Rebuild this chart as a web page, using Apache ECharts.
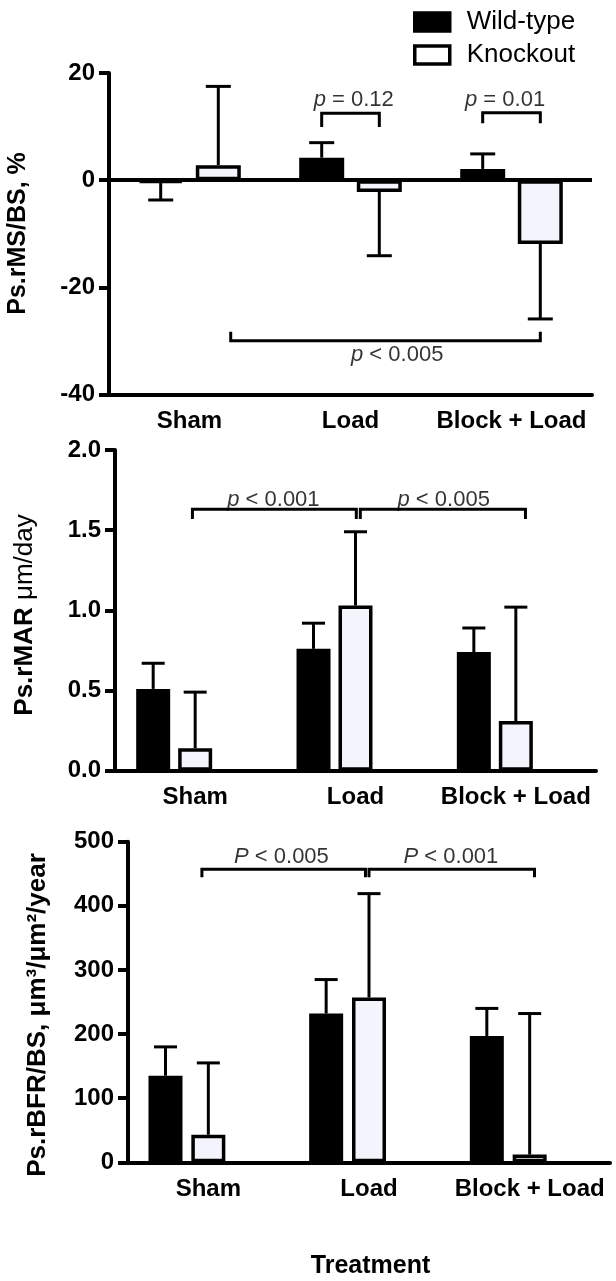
<!DOCTYPE html>
<html><head><meta charset="utf-8">
<script src="https://cdn.jsdelivr.net/npm/echarts@6/dist/echarts.min.js"></script>
<style>html,body{margin:0;padding:0;background:#fff}#c{width:616px;height:1281px}</style>
</head><body><div id="c"></div>
<script>
const categories = ['Sham', 'Load', 'Block + Load'];
const seriesNames = ['Wild-type', 'Knockout'];

// Panel 1: Ps.rMS/BS, %
const msWT = [-0.5, 4.2, 2.1];
const msKO = [2.8, -2.2, -11.9];
const msWTErrEnd = [-3.7, 7.0, 4.9];
const msKOErrEnd = [17.5, -14.1, -25.9];
const msTicks = [-40, -20, 0, 20];

// Panel 2: Ps.rMAR µm/day
const marWT = [0.51, 0.76, 0.74];
const marKO = [0.14, 1.03, 0.31];
const marWTErrEnd = [0.67, 0.92, 0.89];
const marKOErrEnd = [0.49, 1.49, 1.02];
const marTicks = [0, 0.5, 1.0, 1.5, 2.0];

// Panel 3: Ps.rBFR/BS
const bfrWT = [135, 232, 197];
const bfrKO = [43, 257, 12];
const bfrWTErrEnd = [180, 285, 240];
const bfrKOErrEnd = [155, 419, 232];
const bfrTicks = [0, 100, 200, 300, 400, 500];

// significance annotations (x in category units, y in data units)
const msBrX = [[0.821, 1.179], [1.821, 2.179], [0.256, 2.179]];
const msBrY = [[9.9, 12.5], [10.6, 12.6], [-28.3, -29.95]];
const msPLetter = ['p', 'p', 'p'];
const msPText = [' = 0.12', ' = 0.01', ' < 0.005'];
const msPPos = [[1.02, 14.9], [1.96, 15.0], [1.29, -32.6]];

const marBrX = [[-0.017, 1.005], [1.03, 2.06]];
const marBrY = [[1.57, 1.63], [1.57, 1.63]];
const marPLetter = ['p', 'p'];
const marPText = [' < 0.001', ' < 0.005'];
const marPPos = [[0.488, 1.69], [1.55, 1.69]];

const bfrBrX = [[-0.04, 0.978], [1.0, 2.03]];
const bfrBrY = [[444.5, 457], [444.5, 457]];
const bfrPLetter = ['P', 'P'];
const bfrPText = [' < 0.005', ' < 0.001'];
const bfrPPos = [[0.455, 476], [1.51, 476]];

const FF = '"Liberation Sans", Arial, Helvetica, sans-serif';
const KO_FILL = '#f4f5fc';

const panels = [
  { grid: {left: 109, top: 73, width: 483, height: 321.5},
    wt: msWT, ko: msKO, wtE: msWTErrEnd, koE: msKOErrEnd, ticks: msTicks, fmt: v => String(v),
    barWidth: 45, barGap: 0.28, dummy: false, capW: 25, zeroLine: true,
    brX: msBrX, brY: msBrY, pL: msPLetter, pT: msPText, pP: msPPos },
  { grid: {left: 115, top: 450, width: 481, height: 320.7},
    wt: marWT, ko: marKO, wtE: marWTErrEnd, koE: marKOErrEnd, ticks: marTicks, fmt: v => v.toFixed(1),
    barWidth: 34, barGap: 0.235, dummy: true, capW: 23, zeroLine: false,
    brX: marBrX, brY: marBrY, pL: marPLetter, pT: marPText, pP: marPPos },
  { grid: {left: 128, top: 841.7, width: 482, height: 320.6},
    wt: bfrWT, ko: bfrKO, wtE: bfrWTErrEnd, koE: bfrKOErrEnd, ticks: bfrTicks, fmt: v => String(v),
    barWidth: 34, barGap: 0.26, dummy: true, capW: 23, zeroLine: false,
    brX: bfrBrX, brY: bfrBrY, pL: bfrPLetter, pT: bfrPText, pP: bfrPPos }
];

function errRender(offset, capW) {
  return function (params, api) {
    const j = api.value(0), m = api.value(1), e = api.value(2);
    const p0 = api.coord([j, m]);
    const p1 = api.coord([j, e]);
    const x = p0[0] + offset;
    return { type: 'group', children: [
      { type: 'line', shape: {x1: x, y1: p0[1], x2: x, y2: p1[1]}, style: {stroke: '#000', lineWidth: 3} },
      { type: 'line', shape: {x1: x - capW / 2, y1: p1[1], x2: x + capW / 2, y2: p1[1]}, style: {stroke: '#000', lineWidth: 3} }
    ]};
  };
}

const grids = [], xAxes = [], yAxes = [], series = [];
panels.forEach((P, i) => {
  grids.push(P.grid);
  xAxes.push({
    type: 'category', gridIndex: i, data: categories, boundaryGap: true,
    axisLine: {onZero: false, lineStyle: {color: '#000', width: 4}},
    axisTick: {alignWithLabel: true, length: 10, lineStyle: {color: '#000', width: 4}},
    axisLabel: {interval: 0, margin: 15, fontSize: 24, fontWeight: 'bold', color: '#000', fontFamily: FF},
    splitLine: {show: false}
  });
  xAxes.push({ type: 'value', gridIndex: i, min: -0.5, max: 2.5, show: false });
  const tmin = P.ticks[0], tmax = P.ticks[P.ticks.length - 1];
  yAxes.push({
    type: 'value', gridIndex: i, min: tmin, max: tmax, interval: P.ticks[1] - P.ticks[0],
    axisLine: {show: true, onZero: false, lineStyle: {color: '#000', width: 4}},
    axisTick: {show: true, length: 10, lineStyle: {color: '#000', width: 4}},
    axisLabel: {margin: 14, fontSize: 24, fontWeight: 'bold', color: '#000', fontFamily: FF, formatter: P.fmt},
    splitLine: {show: false}
  });
  const cx = 2 * i, hx = 2 * i + 1;
  const gapPct = (P.barGap * 100).toFixed(1) + '%';
  const step = P.barWidth * (1 + P.barGap);
  const wtOff = P.dummy ? -step : -step / 2;
  const koOff = P.dummy ? 0 : step / 2;
  const wtSeries = {
    type: 'bar', name: seriesNames[0], xAxisIndex: cx, yAxisIndex: i, data: P.wt,
    barWidth: P.barWidth, barGap: gapPct,
    itemStyle: {color: '#000', borderColor: '#000', borderWidth: 3.5},
    silent: true, z: 2
  };
  if (P.zeroLine) {
    wtSeries.markLine = {
      silent: true, symbol: ['none', 'none'], label: {show: false},
      lineStyle: {color: '#000', width: 4, type: 'solid'}, data: [{yAxis: 0}]
    };
  }
  series.push(wtSeries);
  series.push({
    type: 'bar', name: seriesNames[1], xAxisIndex: cx, yAxisIndex: i, data: P.ko,
    barWidth: P.barWidth, barGap: gapPct,
    itemStyle: {color: KO_FILL, borderColor: '#000', borderWidth: 3.5},
    silent: true, z: 2
  });
  if (P.dummy) {
    series.push({
      type: 'bar', name: '_spacer' + i, xAxisIndex: cx, yAxisIndex: i, data: ['-', '-', '-'],
      barWidth: P.barWidth, barGap: gapPct, silent: true
    });
  }
  series.push({
    type: 'custom', xAxisIndex: cx, yAxisIndex: i, silent: true, z: 3,
    renderItem: errRender(wtOff, P.capW), encode: {x: 0, y: [1, 2]},
    data: P.wt.map((v, j) => [j, v, P.wtE[j]])
  });
  series.push({
    type: 'custom', xAxisIndex: cx, yAxisIndex: i, silent: true, z: 3,
    renderItem: errRender(koOff, P.capW), encode: {x: 0, y: [1, 2]},
    data: P.ko.map((v, j) => [j, v, P.koE[j]])
  });
  P.brX.forEach((bx, k) => {
    const by = P.brY[k];
    series.push({
      type: 'line', xAxisIndex: hx, yAxisIndex: i, silent: true, symbol: 'none',
      lineStyle: {color: '#000', width: 3, join: 'miter', cap: 'butt'},
      data: [[bx[0], by[0]], [bx[0], by[1]], [bx[1], by[1]], [bx[1], by[0]]], z: 4
    });
  });
  series.push({
    type: 'scatter', xAxisIndex: hx, yAxisIndex: i, silent: true, symbolSize: 0,
    itemStyle: {color: 'rgba(0,0,0,0)'},
    data: P.pP,
    label: {
      show: true, position: 'inside', color: '#000', fontSize: 22, fontFamily: FF,
      formatter: p => '{i|' + P.pL[p.dataIndex] + '}' + P.pT[p.dataIndex],
      rich: {i: {fontStyle: 'italic', fontSize: 22, fontFamily: FF, color: '#000'}}
    }, z: 5
  });
});

const option = {
  animation: false,
  backgroundColor: '#fff',
  grid: grids, xAxis: xAxes, yAxis: yAxes, series: series,
  legend: {
    orient: 'vertical', left: 408, top: 4, itemWidth: 35, itemHeight: 18, itemGap: 7,
    icon: 'rect', selectedMode: false,
    textStyle: {fontSize: 26, fontFamily: FF, color: '#000', lineHeight: 25, padding: [0, 0, 0, 12]},
    data: [
      {name: seriesNames[0], itemStyle: {color: '#000', borderColor: '#000', borderWidth: 3.5}},
      {name: seriesNames[1], itemStyle: {color: '#fff', borderColor: '#000', borderWidth: 3.5}}
    ]
  },
  graphic: [
    {type: 'text', x: 18, y: 233.5, rotation: Math.PI / 2,
     style: {text: 'Ps.rMS/BS, %', fontSize: 25, fontWeight: 'bold', fontFamily: FF, fill: '#000', align: 'center', verticalAlign: 'middle'}},
    {type: 'text', x: 25, y: 615, rotation: Math.PI / 2,
     style: {text: '{b|Ps.rMAR} {n|μm/day}', fontSize: 26, fontFamily: FF, fill: '#000', align: 'center', verticalAlign: 'middle',
       rich: {b: {fontSize: 26, fontWeight: 'bold', fontFamily: FF, fill: '#000'}, n: {fontSize: 26, fontFamily: FF, fill: '#000'}}}},
    {type: 'text', x: 38, y: 1015, rotation: Math.PI / 2,
     style: {text: 'Ps.rBFR/BS, μm³/μm²/year', fontSize: 26, fontWeight: 'bold', fontFamily: FF, fill: '#000', align: 'center', verticalAlign: 'middle'}},
    {type: 'text', x: 370.5, y: 1266,
     style: {text: 'Treatment', fontSize: 25, fontWeight: 'bold', fontFamily: FF, fill: '#000', align: 'center', verticalAlign: 'middle'}}
  ]
};

const chart = echarts.init(document.getElementById('c'), null, {renderer: 'canvas'});
chart.setOption(option);
</script>
</body></html>
